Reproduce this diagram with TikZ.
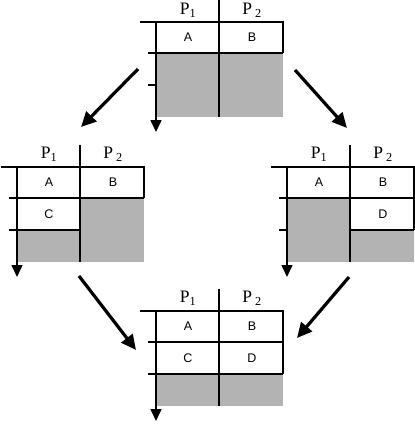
\documentclass[tikz,border=0pt]{standalone}
\usepackage{fontspec}
\setmainfont{Liberation Serif}
\setsansfont{Liberation Sans}
\usetikzlibrary{arrows.meta}
\definecolor{cellgray}{HTML}{B3B3B3}
\definecolor{lineblack}{HTML}{000000}

\begin{document}
\begin{tikzpicture}[
  x=1pt,y=-1pt,line cap=butt,line join=miter,
  grid/.style={lineblack,line width=1.5pt},
  axis/.style={lineblack,line width=1.5pt,-{Triangle[length=12pt,width=11pt]}},
  shade/.style={fill=cellgray},
  cell/.style={font=\sffamily\fontsize{12.5}{14}\selectfont,inner sep=0pt},
  proc/.style={font=\fontsize{17.5}{20}\selectfont,inner sep=0pt},
  flow/.style={lineblack,line width=3.2pt,-{Triangle[length=15pt,width=14pt]}}
]
  \useasboundingbox (0,0) rectangle (415,424);

  % Top table: only the first row is filled.
  \begin{scope}[shift={(156,22)}]
    \fill[shade] (0,31) rectangle (127,95);
    \draw[grid] (-16,0) -- (127,0) -- (127,31);
    \draw[grid] (-8,31) -- (127,31);
    \draw[grid] (-8,63) -- (0,63);
    \draw[grid] (63,-22) -- (63,95);
    \draw[axis] (0,0) -- (0,110);
    \node[proc] (t-p1) at (32,-12) {P\textsubscript{1}};
    \node[proc] (t-p2) at (96,-12) {P\,\textsubscript{2}};
    \node[cell] (t-a) at (32,15.5) {A};
    \node[cell] (t-b) at (96,15.5) {B};
  \end{scope}

  % Left table: P1 is one step ahead.
  \begin{scope}[shift={(17,167)}]
    \fill[shade] (0,63) rectangle (63,95);
    \fill[shade] (63,31) rectangle (127,95);
    \draw[grid] (-16,0) -- (127,0) -- (127,31);
    \draw[grid] (-8,31) -- (127,31);
    \draw[grid] (-8,63) -- (63,63);
    \draw[grid] (63,-22) -- (63,95);
    \draw[axis] (0,0) -- (0,110);
    \node[proc] (l-p1) at (32,-13) {P\textsubscript{1}};
    \node[proc] (l-p2) at (96,-13) {P\,\textsubscript{2}};
    \node[cell] (l-a) at (32,15.5) {A};
    \node[cell] (l-b) at (96,15.5) {B};
    \node[cell] (l-c) at (32,47) {C};
  \end{scope}

  % Right table: P2 is one step ahead.
  \begin{scope}[shift={(287,167)}]
    \fill[shade] (0,31) rectangle (63,95);
    \fill[shade] (63,63) rectangle (127,95);
    \draw[grid] (-16,0) -- (127,0) -- (127,63);
    \draw[grid] (-8,31) -- (127,31);
    \draw[grid] (-8,63) -- (0,63);
    \draw[grid] (63,63) -- (127,63);
    \draw[grid] (63,-22) -- (63,95);
    \draw[axis] (0,0) -- (0,110);
    \node[proc] (r-p1) at (32,-13) {P\textsubscript{1}};
    \node[proc] (r-p2) at (96,-13) {P\,\textsubscript{2}};
    \node[cell] (r-a) at (32,15.5) {A};
    \node[cell] (r-b) at (96,15.5) {B};
    \node[cell] (r-d) at (96,47) {D};
  \end{scope}

  % Bottom table: both rows filled.
  \begin{scope}[shift={(156,311)}]
    \fill[shade] (0,63) rectangle (127,95);
    \draw[grid] (-16,0) -- (127,0) -- (127,63);
    \draw[grid] (-8,31) -- (127,31);
    \draw[grid] (-8,63) -- (127,63);
    \draw[grid] (63,-22) -- (63,95);
    \draw[axis] (0,0) -- (0,110);
    \node[proc] (b-p1) at (32,-13) {P\textsubscript{1}};
    \node[proc] (b-p2) at (96,-13) {P\,\textsubscript{2}};
    \node[cell] (b-a) at (32,15.5) {A};
    \node[cell] (b-b) at (96,15.5) {B};
    \node[cell] (b-c) at (32,47) {C};
    \node[cell] (b-d) at (96,47) {D};
  \end{scope}

  % Transitions between the states.
  \coordinate (top-out-l) at (138,69);
  \coordinate (left-in)   at (81,127);
  \coordinate (top-out-r) at (295,70);
  \coordinate (right-in)  at (347,128);
  \coordinate (left-out)  at (79,276);
  \coordinate (bot-in-l)  at (136,350);
  \coordinate (right-out) at (349,277);
  \coordinate (bot-in-r)  at (297,338);
  \draw[flow] (top-out-l) -- (left-in);
  \draw[flow] (top-out-r) -- (right-in);
  \draw[flow] (left-out) -- (bot-in-l);
  \draw[flow] (right-out) -- (bot-in-r);
\end{tikzpicture}
\end{document}
